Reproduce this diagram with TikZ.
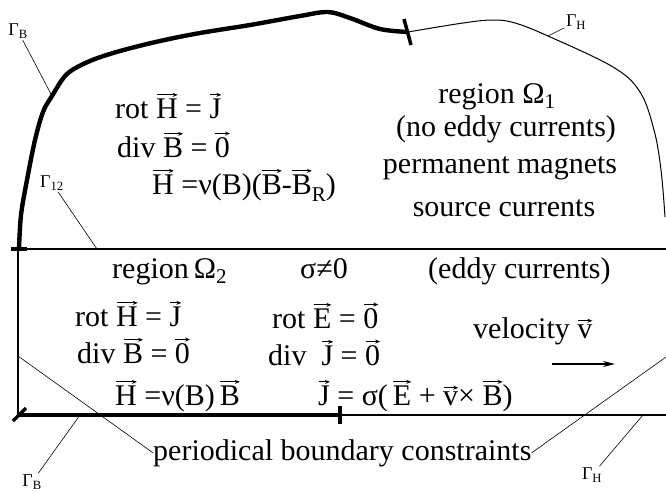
\documentclass[tikz,border=0pt]{standalone}
\usepackage{fontspec}
\setmainfont{Liberation Serif}
\usetikzlibrary{arrows.meta}

\newdimen\vtw \newdimen\vth
% letter with a small arrow on top
\newcommand\vt[1]{\setbox0\hbox{#1}\vtw=\wd0\relax \vth=\ht0\relax \advance\vth by 3.5pt\relax
  \leavevmode\rlap{\tikz[overlay]\draw[line width=0.8pt, -{Stealth[length=5pt,width=4pt]}] (0.5pt,\vth) -- (\vtw,\vth);}\box0\relax}

\begin{document}
\begin{tikzpicture}[x=1pt, y=-1pt,
  eqn/.style={font=\fontsize{30}{34}\selectfont, anchor=base west, inner sep=0pt},
  ctr/.style={font=\fontsize{30}{34}\selectfont, anchor=base, inner sep=0pt},
  gam/.style={font=\fontsize{18}{20}\selectfont, inner sep=1.5pt},
  bnd/.style={line width=4.4pt},
  wall/.style={line width=1.3pt},
  lead/.style={line width=0.6pt}]
  \useasboundingbox (0,0) rectangle (666,493);

  % points where the labels point to
  \coordinate (pB1) at (52,96);
  \coordinate (pH1) at (548,36);
  \coordinate (p12) at (97,249);
  \coordinate (pB2) at (80,415);
  \coordinate (pH2) at (643,415);
  \coordinate (pl) at (18,356);
  \coordinate (pr) at (666,357);

  % Gamma_B, upper part
  \draw[bnd] plot[smooth, tension=0.55] coordinates {(19,249) (21,215) (27,180) (35,140)
    (43,112) (52,96) (67,74) (90,61) (120,51) (160,41) (200,33) (250,25) (300,16) (328,12)
    (350,18) (380,29) (408,32)};
  \draw[line width=3.5pt] (404,19) -- (411,45);
  \draw[line width=3.5pt] (11,249) -- (27,249);

  % Gamma_H, upper part
  \draw[line width=1pt] plot[smooth, tension=0.6] coordinates {(408,32) (463,23) (493,20)
    (515,23) (548,36) (613,67) (640,92) (654,130) (661,170) (665,217)};

  % Gamma_12, left wall, bottom
  \draw[wall] (18,249) -- (666,249);
  \draw[wall] (18,249) -- (18,415);
  \draw[bnd] (18,415) -- (340,415);
  \draw[wall] (340,415) -- (666,415);
  \draw[line width=3.5pt] (340,406) -- (340,424);
  \draw[line width=3.5pt] (13,421) -- (26,408);

  % region 1
  \node[ctr] (om1) at (497,103) {region Ω\textsubscript{1}};
  \node[ctr] (ned) at (506,136) {(no eddy currents)};
  \node[ctr] (pm) at (500,173) {permanent magnets};
  \node[ctr] (src) at (504,216) {source currents};
  \node[eqn] (rot1) at (115,118) {rot \vt{H} = \vt{J}};
  \node[eqn] (div1) at (117,157) {div \vt{B} = \vt{0}};
  \node[eqn] (law1) at (152,194) {\vt{H} =ν(B)(\vt{B}-\vt{B}\raisebox{-7pt}{\fontsize{21}{21}\selectfont R})};

  % region 2
  \node[eqn] (om2) at (112,278) {region\,Ω\textsubscript{2}};
  \node[eqn] (sig) at (300,278) {σ≠0};
  \node[eqn] (edd) at (428,278) {(eddy currents)};
  \node[eqn] (rot2) at (75,326) {rot \vt{H} = \vt{J}};
  \node[eqn] (div2) at (77,363) {div \vt{B} = \vt{0}};
  \node[eqn] (law2) at (115,405) {\vt{H} =ν(B)\,\vt{B}};
  \node[eqn] (rotE) at (272,328) {rot \vt{E} = \vt{0}};
  \node[eqn] (divJ) at (268,365) {div \ \vt{J} = \vt{0}};
  \node[eqn] (ohm) at (318,405) {\vt{J} = σ(\,\vt{E} + \vt{v}× \vt{B})};
  \node[eqn] (vel) at (473,338) {velocity \vt{v}};
  \coordinate (va) at (552,364);
  \coordinate (vb) at (615,364);
  \draw[line width=1.2pt, -{Stealth[length=12pt,width=6pt]}] (va) -- (vb);

  % periodical boundary
  \node[eqn] (per) at (153,460) {periodical boundary constraints};
  \draw[lead] (per.west) -- (pl);
  \draw[lead] (per.east) -- (pr);

  % boundary labels
  \node[gam] (gB1) at (18,31) {Γ\textsubscript{B}};
  \node[gam] (gH1) at (576,22) {Γ\textsubscript{H}};
  \node[gam] (g12) at (52,183) {Γ\textsubscript{12}};
  \node[gam] (gB2) at (32,482) {Γ\textsubscript{B}};
  \node[gam] (gH2) at (592,475) {Γ\textsubscript{H}};
  \draw[lead] (gB1) -- (pB1);
  \draw[lead] (gH1) -- (pH1);
  \draw[lead] (g12) -- (p12);
  \draw[lead] (gB2) -- (pB2);
  \draw[lead] (gH2) -- (pH2);
\end{tikzpicture}
\end{document}
